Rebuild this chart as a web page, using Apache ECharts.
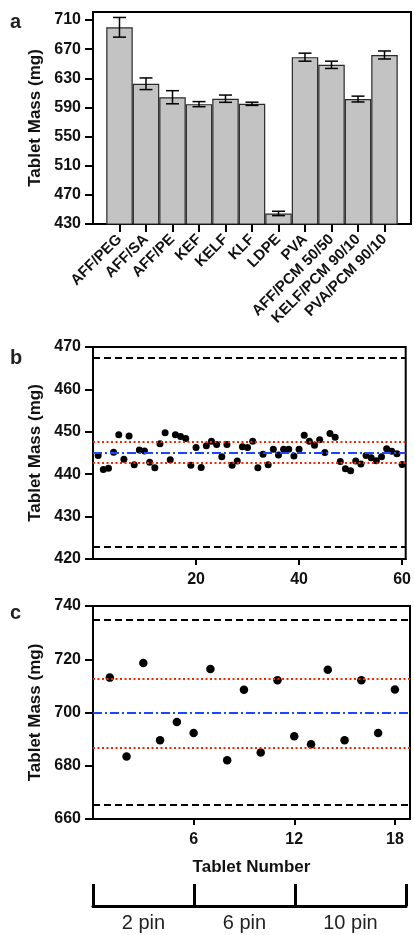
<!DOCTYPE html>
<html>
<head>
<meta charset="utf-8">
<script src="https://cdn.jsdelivr.net/npm/echarts@6/dist/echarts.min.js"></script>
<style>
html,body{margin:0;padding:0;background:#fff;}
#chart{width:414px;height:935px;}
</style>
</head>
<body>
<div id="chart"></div>
<script>
// ---- Panel a data ----
const categories = ['AFF/PEG','AFF/SA','AFF/PE','KEF','KELF','KLF','LDPE','PVA','AFF/PCM 50/50','KELF/PCM 90/10','PVA/PCM 90/10'];
const meanMass = [700, 622.5, 604, 594.5, 602, 595, 444.5, 659, 648.5, 601.5, 662];
const sdMass   = [13.5, 8, 9, 3.5, 5, 2.2, 3, 5.5, 5, 4, 5.5];
const aTicks = [430, 470, 510, 550, 590, 630, 670, 710];

// ---- Panel b data (LDPE, 60 tablets) ----
const ldpeMass = [444.4,441.1,441.4,445.2,449.3,443.5,449.0,442.2,445.7,445.5,
                  442.8,441.5,447.2,449.8,443.4,449.3,448.9,448.4,442.1,446.3,
                  441.6,446.7,447.8,447.0,444.1,447.0,442.1,443.1,446.5,446.3,
                  447.8,441.5,444.7,442.2,445.9,444.5,445.9,445.9,444.3,445.9,
                  449.2,447.8,446.8,448.1,445.1,449.6,448.7,443.0,441.3,440.8,
                  443.1,442.4,444.4,443.9,443.2,444.1,446.0,445.4,444.8,442.3];
const bLimits = [467.4, 422.8];
const bMean = [445.1];
const bSD = [447.6, 442.6];
const bTicks = [20, 40, 60];

// ---- Panel c data (AFF/PEG, 18 tablets) ----
const pegMass = [713.1,683.5,718.6,689.6,696.4,692.3,716.3,682.1,708.5,685.0,
                 712.1,691.1,688.1,716.1,689.6,712.1,692.3,708.6];
const cLimits = [734.8, 665.2];
const cMean = [699.8];
const cSD = [712.8, 686.7];
const cTicks = [6, 12, 18];

// ---- pin groups ----
const pinGroups = ['2 pin', '6 pin', '10 pin'];
const pinBounds = [0, 6, 12, 18.6];

const FONT = 'Liberation Sans, Arial, sans-serif';
const axisLineStyle = {color:'#000', width:2};
const tickLabel = {color:'#111', fontFamily:FONT, fontWeight:'bold', fontSize:16};
const nameStyle = {color:'#111', fontFamily:FONT, fontWeight:'bold', fontSize:17};

const idx = categories.map((c,i)=>i+1);
const pinMids = pinGroups.map((g,i)=>(pinBounds[i]+pinBounds[i+1])/2);

function refLines(limits, mean, sd){
  const d = [];
  limits.forEach(v=>d.push({yAxis:v, lineStyle:{color:'#000', type:[7,4], width:2}}));
  sd.forEach(v=>d.push({yAxis:v, lineStyle:{color:'#ff2200', type:[2,2.5], width:2}}));
  mean.forEach(v=>d.push({yAxis:v, lineStyle:{color:'#1a46ff', type:[9,3,2,3], width:2}}));
  return {symbol:['none','none'], silent:true, label:{show:false}, data:d, animation:false};
}

const chart = echarts.init(document.getElementById('chart'), null, {renderer:'canvas'});
const option = {
  animation:false,
  backgroundColor:'#fff',
  grid:[
    {left:93, top:12, width:318, height:212, show:true, borderColor:'#000', borderWidth:2},
    {left:93, top:347, width:318.5, height:212, show:true, borderColor:'#000', borderWidth:2},
    {left:93, top:606, width:317, height:213, show:true, borderColor:'#000', borderWidth:2},
    {left:93, top:884, width:313, height:22, show:false}
  ],
  xAxis:[
    {gridIndex:0, type:'value', min:0, max:12, splitLine:{show:false},
     axisLine:{lineStyle:axisLineStyle},
     axisTick:{customValues:idx, length:8, lineStyle:{color:'#000', width:2}},
     axisLabel:Object.assign({}, tickLabel, {customValues:idx, rotate:45, margin:13, fontSize:15,
        formatter:v=>categories[Math.round(v)-1]})},
    {gridIndex:1, type:'value', min:0, max:60.7, splitLine:{show:false},
     axisLine:{lineStyle:axisLineStyle},
     axisTick:{customValues:bTicks, length:6, lineStyle:{color:'#000', width:2}},
     axisLabel:Object.assign({}, tickLabel, {customValues:bTicks, margin:13})},
    {gridIndex:2, type:'value', min:0, max:18.9, splitLine:{show:false},
     axisLine:{lineStyle:axisLineStyle},
     axisTick:{customValues:cTicks, length:6, lineStyle:{color:'#000', width:2}},
     axisLabel:Object.assign({}, tickLabel, {customValues:cTicks, margin:13}),
     name:'Tablet Number', nameLocation:'middle', nameGap:40, nameTextStyle:nameStyle},
    {gridIndex:3, type:'value', min:pinBounds[0], max:pinBounds[pinBounds.length-1], splitLine:{show:false},
     axisLine:{lineStyle:{color:'#000', width:3}},
     axisTick:{customValues:pinBounds, inside:true, length:22, lineStyle:{color:'#000', width:3}},
     axisLabel:{customValues:pinMids, margin:7, color:'#222', fontFamily:FONT, fontSize:20,
        formatter:v=>{const i=pinMids.findIndex(m=>Math.abs(m-v)<1e-6); return i>=0?pinGroups[i]:'';}}}
  ],
  yAxis:[
    {gridIndex:0, type:'value', min:430, max:721, splitLine:{show:false},
     axisLine:{lineStyle:axisLineStyle},
     axisTick:{customValues:aTicks, length:8, lineStyle:{color:'#000', width:2}},
     axisLabel:Object.assign({}, tickLabel, {customValues:aTicks, margin:12}),
     name:'Tablet Mass (mg)', nameLocation:'middle', nameGap:46, nameTextStyle:nameStyle},
    {gridIndex:1, type:'value', min:420, max:470, interval:10, splitLine:{show:false},
     axisLine:{lineStyle:axisLineStyle},
     axisTick:{length:8, lineStyle:{color:'#000', width:2}},
     axisLabel:Object.assign({}, tickLabel, {margin:12}),
     name:'Tablet Mass (mg)', nameLocation:'middle', nameGap:46, nameTextStyle:nameStyle},
    {gridIndex:2, type:'value', min:660, max:740, interval:20, splitLine:{show:false},
     axisLine:{lineStyle:axisLineStyle},
     axisTick:{length:8, lineStyle:{color:'#000', width:2}},
     axisLabel:Object.assign({}, tickLabel, {margin:12}),
     name:'Tablet Mass (mg)', nameLocation:'middle', nameGap:46, nameTextStyle:nameStyle},
    {gridIndex:3, type:'value', show:false}
  ],
  series:[
    {type:'bar', xAxisIndex:0, yAxisIndex:0, barWidth:26.5, clip:true,
     itemStyle:{color:'#c3c3c3', borderColor:'#2a2a2a', borderWidth:1.2},
     data:meanMass.map((v,i)=>[i+1, v]), z:2},
    {type:'custom', xAxisIndex:0, yAxisIndex:0, z:3,
     data:meanMass.map((v,i)=>[i+1, v, sdMass[i]]),
     renderItem:function(params, api){
       const x = api.value(0), m = api.value(1), s = api.value(2);
       const t = api.coord([x, m+s]), b = api.coord([x, m-s]);
       const hw = 6.5;
       const st = {stroke:'#000', lineWidth:1.5};
       return {type:'group', children:[
         {type:'line', shape:{x1:t[0], y1:t[1], x2:b[0], y2:b[1]}, style:st},
         {type:'line', shape:{x1:t[0]-hw, y1:t[1], x2:t[0]+hw, y2:t[1]}, style:st},
         {type:'line', shape:{x1:b[0]-hw, y1:b[1], x2:b[0]+hw, y2:b[1]}, style:st}
       ]};
     }},
    {type:'scatter', xAxisIndex:1, yAxisIndex:1, symbolSize:7, itemStyle:{color:'#000', opacity:1},
     data:ldpeMass.map((v,i)=>[i+1, v]), markLine:refLines(bLimits, bMean, bSD), z:3},
    {type:'scatter', xAxisIndex:2, yAxisIndex:2, symbolSize:8.5, itemStyle:{color:'#000', opacity:1},
     data:pegMass.map((v,i)=>[i+1, v]), markLine:refLines(cLimits, cMean, cSD), z:3}
  ],
  graphic:[
    {type:'text', left:10, top:12, style:{text:'a', font:'bold 20px '+FONT, fill:'#222'}},
    {type:'text', left:10, top:348, style:{text:'b', font:'bold 20px '+FONT, fill:'#222'}},
    {type:'text', left:10, top:603, style:{text:'c', font:'bold 20px '+FONT, fill:'#222'}}
  ]
};
chart.setOption(option);
</script>
</body>
</html>
